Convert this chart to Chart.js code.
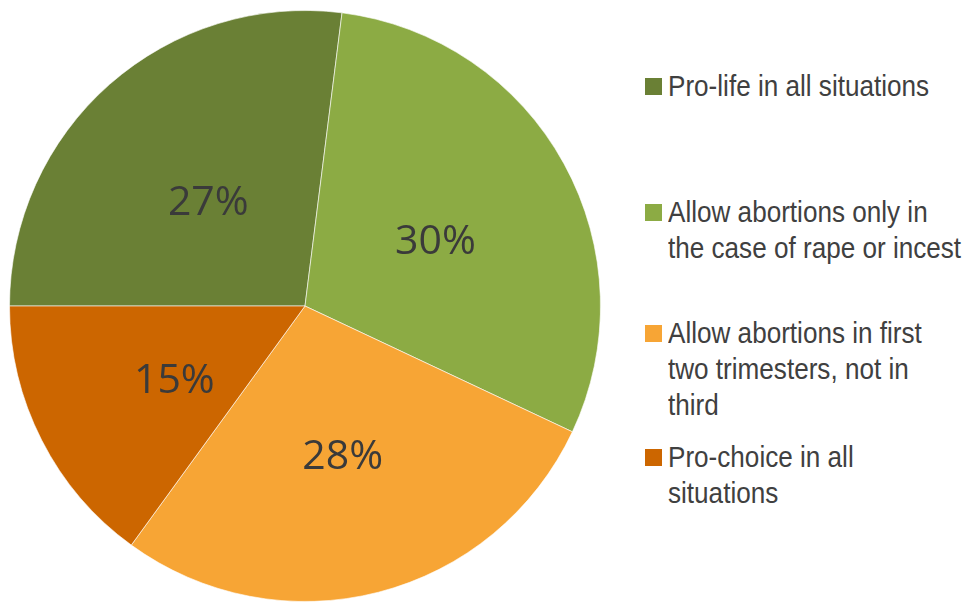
<!DOCTYPE html>
<html lang="en">
<head>
  <meta charset="UTF-8">
  <title>Abortion views pie chart</title>
  <script src="https://cdn.jsdelivr.net/npm/chart.js"></script>
  <style>
    body { margin: 0; background: #fff; }
    #wrap { position: relative; width: 967px; height: 602px; }
    #pie { position: absolute; left: 0; top: 0; }
    #legend { position: absolute; left: 645px; top: 0; width: 320px;
      font-family: "Liberation Sans", Arial, sans-serif;
      font-size: 30px; line-height: 36px; color: #404040; }
    .item { position: absolute; left: 0; white-space: nowrap; }
    .box { position: absolute; left: 0; top: 10px; width: 17px; height: 17px; }
    .txt { position: absolute; left: 23px; top: 0; transform: scaleX(0.87); transform-origin: 0 0; }
  </style>
</head>
<body>
  <div id="wrap">
    <canvas id="pie" width="612" height="602"></canvas>
    <div id="legend"></div>
  </div>

  <script>
    // categories and shares (%)
    const categories = [
      'Pro-life in all situations',
      'Allow abortions only in the case of rape or incest',
      'Allow abortions in first two trimesters, not in third',
      'Pro-choice in all situations'
    ];
    const shares = [27, 30, 28, 15];
    const colors = ['#6a8035', '#8cab44', '#f7a535', '#cc6600'];

    // legend lines as in the picture (wrapped text)
    const legendLines = [
      ['Pro-life in all situations'],
      ['Allow abortions only in', 'the case of rape or incest'],
      ['Allow abortions in first', 'two trimesters, not in', 'third'],
      ['Pro-choice in all', 'situations']
    ];
    const legendTops = [68, 194, 315, 439];

    const legend = document.getElementById('legend');
    legendLines.forEach((lines, i) => {
      const div = document.createElement('div');
      div.className = 'item';
      div.style.top = legendTops[i] + 'px';
      div.innerHTML = '<span class="box" style="background:' + colors[i] + '"></span>' +
        '<span class="txt">' + lines.join('<br>') + '</span>';
      legend.appendChild(div);
    });

    // labels drawn in the middle of each slice
    const sliceLabels = {
      id: 'sliceLabels',
      afterDatasetsDraw(chart) {
        const c = chart.ctx;
        const meta = chart.getDatasetMeta(0);
        c.save();
        c.font = '41px "Open Sans", sans-serif';
        c.fillStyle = '#3a3a3a';
        c.textAlign = 'center';
        c.textBaseline = 'middle';
        meta.data.forEach((arc, i) => {
          const p = arc.tooltipPosition();
          c.fillText(shares[i] + '%', p.x + 1, p.y + 8);
        });
        c.restore();
      }
    };

    new Chart(document.getElementById('pie'), {
      type: 'pie',
      data: {
        labels: categories,
        datasets: [{
          data: shares,
          backgroundColor: colors,
          borderColor: 'rgba(255,255,255,0.6)',
          borderWidth: 1
        }]
      },
      options: {
        responsive: false,
        animation: false,
        rotation: 270,
        layout: { padding: { left: 9, right: 11, top: 10, bottom: 0 } },
        plugins: {
          legend: { display: false },
          tooltip: { enabled: false }
        }
      },
      plugins: [sliceLabels]
    });
  </script>
</body>
</html>
